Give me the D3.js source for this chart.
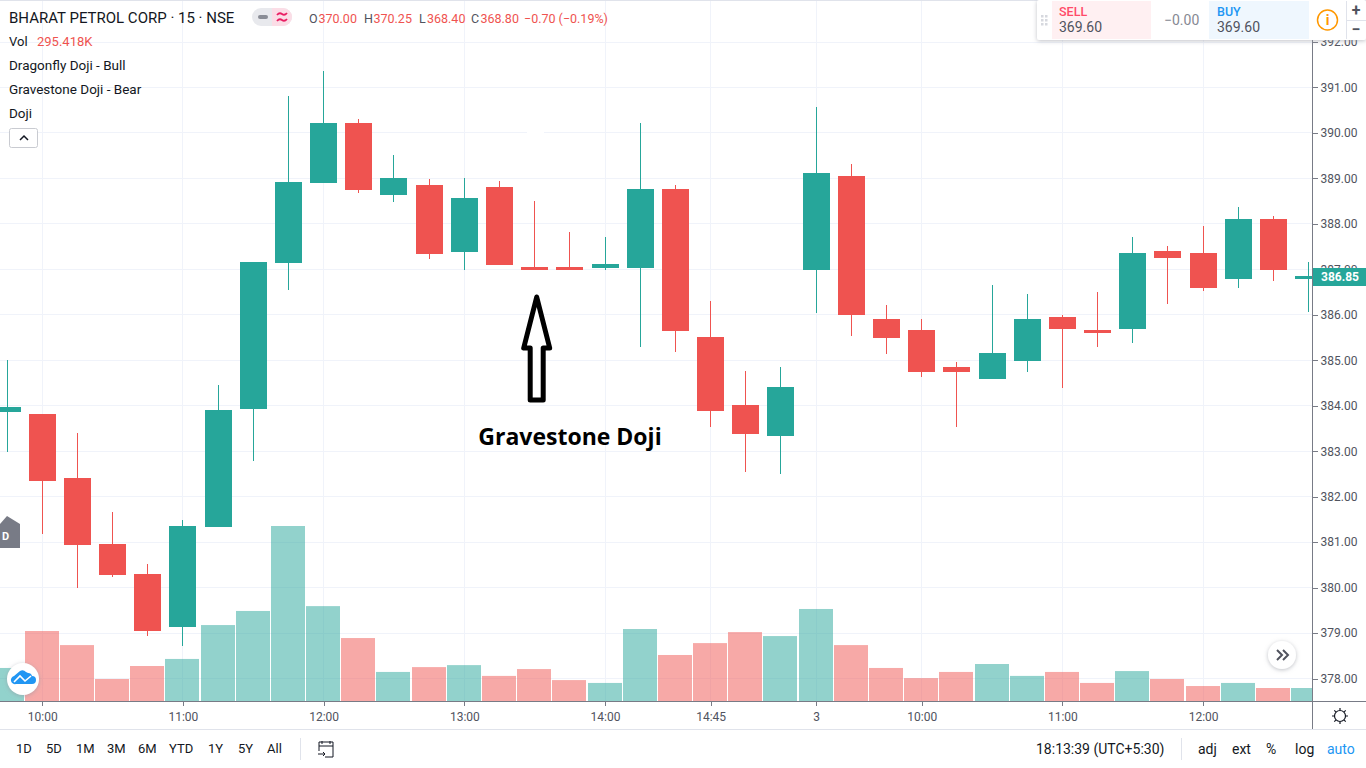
<!DOCTYPE html>
<html>
<head>
<meta charset="utf-8">
<style>
html, body { margin: 0; padding: 0; background: #fff; overflow: hidden; }
svg { display: block; font-family: "Open Sans", sans-serif; }
.axis path, .axis line { stroke: #787b86; shape-rendering: crispEdges; }
.axis text { font-family: Roboto, sans-serif; font-size: 12px; fill: #50535e; }
</style>
<script src="https://d3js.org/d3.v7.min.js"></script>
</head>
<body>
<div id="chart"></div>
<script>
// values
var opens  = [383.85,383.81,382.40,380.95,380.29,379.12,381.32,383.92,387.13,388.89,390.21,388.62,388.84,387.37,388.80,387.04,387.04,387.02,387.02,388.76,385.50,384.00,383.32,386.97,389.04,385.90,385.65,384.84,384.58,384.97,385.94,385.65,385.68,387.39,387.35,386.78,388.10,386.78];
var highs  = [384.99,383.81,383.39,381.65,380.51,381.47,384.44,387.15,390.80,391.35,390.30,389.50,388.98,389.00,388.93,388.49,387.81,387.70,390.21,388.84,386.29,384.75,384.84,390.56,389.31,386.20,385.90,384.95,386.64,386.45,385.98,386.49,387.70,387.50,387.94,388.36,388.16,387.15];
var lows   = [382.97,381.17,379.98,380.22,378.92,378.70,381.32,382.77,386.53,388.89,388.67,388.47,387.22,386.97,387.08,386.97,386.97,386.97,385.28,385.17,383.52,382.53,382.49,386.03,385.52,385.13,384.62,383.52,384.58,384.73,384.38,385.28,385.37,386.23,386.51,386.58,386.73,386.05];
var closes = [383.96,382.33,380.92,380.26,379.03,381.34,383.89,387.15,388.91,390.21,388.73,389.00,387.33,388.56,387.08,386.97,386.97,387.10,388.76,385.63,383.87,383.37,384.40,389.11,385.98,385.48,384.73,384.73,385.15,385.90,385.68,385.59,387.35,387.24,386.58,388.10,386.97,386.84];
var volumes = [750,1590,1270,500,795,955,1725,2045,3975,2155,1430,660,770,815,570,725,475,410,1635,1045,1315,1565,1475,2090,1270,750,520,660,840,570,660,410,680,500,340,410,295,295];

var priceTicks = d3.range(378, 393);
var timeTickIndex = [1,5,9,13,17,20,23,26,30,34];
var timeTickLabels = ["10:00","11:00","12:00","13:00","14:00","14:45","3","10:00","11:00","12:00"];
var legendLines = ["Dragonfly Doji - Bull","Gravestone Doji - Bear","Doji"];
var rangeButtons = ["1D","5D","1M","3M","6M","YTD","1Y","5Y","All"];
var rangeButtonX = [16,46,76,107,138,169,208,238,267];
var scaleButtons = ["adj","ext","%","log","auto"];
var scaleButtonX = [1198,1232,1266,1295,1327];
var ohlcLabels = ["O","H","L","C"];
var ohlcValues = ["370.00","370.25","368.40","368.80"];
var ohlcX = [309,364,419,471];

var paneRight = 1312, paneBottom = 701;
var green = "#26a69a", red = "#ef5350";

var svg = d3.select("#chart").append("svg")
    .attr("width", 1366)
    .attr("height", 768);

var x = d3.scaleLinear().domain([0, 37]).range([7, 1308.66]);
var y = d3.scaleLinear().domain([378, 392]).range([678, 41.5]);
var yVol = d3.scaleLinear().domain([0, 3975]).range([paneBottom, 526]);
var bodyW = 27, volW = 34;

var defs = svg.append("defs");
defs.append("clipPath").attr("id", "pane").append("rect")
    .attr("width", paneRight).attr("height", paneBottom);
var shadow = defs.append("filter").attr("id", "shadow")
    .attr("x", "-30%").attr("y", "-30%").attr("width", "160%").attr("height", "160%");
shadow.append("feDropShadow").attr("dx", 0).attr("dy", 1).attr("stdDeviation", 2)
    .attr("flood-color", "#9598a1").attr("flood-opacity", 0.6);

var pane = svg.append("g").attr("clip-path", "url(#pane)");

// grid
pane.append("g").selectAll("line").data(priceTicks).enter().append("line")
    .attr("x1", 0).attr("x2", paneRight)
    .attr("y1", function(d) { return Math.round(y(d)) + 0.5; })
    .attr("y2", function(d) { return Math.round(y(d)) + 0.5; })
    .attr("stroke", "#f0f3fa");
pane.append("g").selectAll("line").data(timeTickIndex).enter().append("line")
    .attr("y1", 0).attr("y2", paneBottom)
    .attr("x1", function(d) { return Math.floor(x(d)) + 0.5; })
    .attr("x2", function(d) { return Math.floor(x(d)) + 0.5; })
    .attr("stroke", "#f0f3fa");

// small white patch that sits over the grid in the source image
pane.append("rect").attr("x", 527).attr("y", 127).attr("width", 17).attr("height", 11).attr("fill", "#fff");

// volume
pane.append("g").selectAll("rect").data(volumes).enter().append("rect")
    .attr("x", function(d, i) { return Math.floor(x(i)) - 17; })
    .attr("width", volW)
    .attr("y", function(d) { return yVol(d); })
    .attr("height", function(d) { return paneBottom - yVol(d); })
    .attr("fill", function(d, i) { return closes[i] >= opens[i] ? green : red; })
    .attr("fill-opacity", 0.5);

// candles
var candle = pane.append("g").selectAll("g").data(opens).enter().append("g");
candle.append("line")
    .attr("x1", function(d, i) { return Math.floor(x(i)) + 0.5; })
    .attr("x2", function(d, i) { return Math.floor(x(i)) + 0.5; })
    .attr("y1", function(d, i) { return y(highs[i]); })
    .attr("y2", function(d, i) { return y(lows[i]); })
    .attr("stroke", function(d, i) { return closes[i] >= opens[i] ? green : red; })
    .attr("shape-rendering", "crispEdges");
candle.append("rect")
    .attr("x", function(d, i) { return Math.floor(x(i)) - 13; })
    .attr("width", bodyW)
    .attr("y", function(d, i) { return y(Math.max(opens[i], closes[i])); })
    .attr("height", function(d, i) { return Math.abs(y(opens[i]) - y(closes[i])); })
    .attr("fill", function(d, i) { return closes[i] >= opens[i] ? green : red; })
    .attr("shape-rendering", "crispEdges");

// axes
svg.append("g").attr("class", "axis")
    .attr("transform", "translate(" + (paneRight + 0.5) + ",0.5)")
    .call(d3.axisRight(y).tickValues(priceTicks).tickFormat(d3.format(".2f")).tickSize(5).tickPadding(3))
    .call(function(g) { g.select(".domain").attr("d", "M0,0V729"); });
svg.append("g").attr("class", "axis")
    .attr("transform", "translate(0," + (paneBottom + 0.5) + ")")
    .call(d3.axisBottom(x).tickValues(timeTickIndex)
        .tickFormat(function(d, i) { return timeTickLabels[i]; }).tickSize(4).tickPadding(7))
    .call(function(g) { g.select(".domain").attr("d", "M0,0H1366"); });

// chart frame lines
svg.append("line").attr("x1", 0).attr("x2", 1366).attr("y1", 0.5).attr("y2", 0.5).attr("stroke", "#e0e3eb");
svg.append("line").attr("x1", 0).attr("x2", 1366).attr("y1", 729.5).attr("y2", 729.5).attr("stroke", "#e0e3eb");

// annotation
var ax = x(15) + 2;
var arrow = [[0,0],[-13,51],[-6.5,51],[-6.5,103],[6.5,103],[6.5,51],[13,51]];
svg.append("path")
    .attr("transform", "translate(" + ax + ",297)")
    .attr("d", d3.line()(arrow) + "Z")
    .attr("fill", "#fff").attr("stroke", "#000").attr("stroke-width", 5).attr("stroke-linejoin", "round");
svg.append("text").attr("x", 570).attr("y", 445).attr("text-anchor", "middle")
    .style("font-size", "23px").style("font-weight", 700).attr("fill", "#000").text("Gravestone Doji");

// legend
function label(txt, px, py, size, color, anchor) {
    return svg.append("text").attr("x", px).attr("y", py).text(txt)
        .style("font-family", "Roboto, sans-serif")
        .style("font-size", size + "px").attr("fill", color)
        .attr("text-anchor", anchor || "start");
}
label("BHARAT PETROL CORP · 15 · NSE", 9, 23, 15, "#131722");
svg.append("rect").attr("x", 252).attr("y", 8).attr("width", 40).attr("height", 18).attr("rx", 9).attr("fill", "#e8e9ed");
svg.append("path").attr("d", "M272,8H283a9,9 0 0 1 0,18H272Z").attr("fill", "#fbdde6");
svg.append("rect").attr("x", 258).attr("y", 15).attr("width", 10).attr("height", 4).attr("rx", 2).attr("fill", "#8a8d96");
svg.append("path").attr("d", "M277,15q2.5,-3 5,-1t5,-1M277,21q2.5,-3 5,-1t5,-1")
    .attr("fill", "none").attr("stroke", "#e91e63").attr("stroke-width", 1.8);
ohlcLabels.forEach(function(l, i) {
    label(l, ohlcX[i], 23, 12.5, "#50535e");
    label(ohlcValues[i], ohlcX[i] + (l === "L" ? 8 : 9.5), 23, 12.5, red);
});
label("−0.70 (−0.19%)", 524, 23, 12.5, red);
label("Vol", 9, 46, 13, "#131722");
label("295.418K", 37, 46, 13, red);
legendLines.forEach(function(l, i) {
    label(l, 9, 70 + i * 24, 13.5, "#131722");
});
svg.append("rect").attr("x", 9.5).attr("y", 128.5).attr("width", 28).attr("height", 19).attr("rx", 2)
    .attr("fill", "#fff").attr("stroke", "#c9cbd1");
svg.append("path").attr("d", "M20,140l4,-4l4,4").attr("fill", "none").attr("stroke", "#131722").attr("stroke-width", 1.5);

// last price tag
svg.append("rect").attr("x", 1313).attr("y", 268).attr("width", 53).attr("height", 18).attr("fill", green);
label("386.85", 1321, 281, 12, "#fff").style("font-weight", 700);

// D marker
svg.append("path").attr("d", "M0,524L7,516L20,524V548H0Z").attr("fill", "#787b86");
label("D", 2, 540, 11, "#fff").style("font-weight", 700);

// round buttons
svg.append("circle").attr("cx", 23).attr("cy", 679).attr("r", 16).attr("fill", "#fff").attr("filter", "url(#shadow)");
svg.append("path").attr("d", "M16,684a4,4 0 0 1 -2,-8l6,-5a5,5 0 0 1 6,1l2,1a4,4 0 0 1 4,3a4,4 0 0 1 0,8Z").attr("fill", "#2196f3");
svg.append("path").attr("d", "M14,682l6,-6l5,5l6,-5").attr("fill", "none").attr("stroke", "#fff").attr("stroke-width", 1.6);
svg.append("circle").attr("cx", 1282).attr("cy", 655).attr("r", 14).attr("fill", "#fff").attr("filter", "url(#shadow)");
svg.append("path").attr("d", "M1277,650l5,5l-5,5M1283,650l5,5l-5,5").attr("fill", "none").attr("stroke", "#50535e").attr("stroke-width", 2);

// gear
svg.append("circle").attr("cx", 1340).attr("cy", 716).attr("r", 5.5).attr("fill", "none").attr("stroke", "#131722").attr("stroke-width", 1.2);
svg.append("path").attr("d", "M1340,708v2M1340,722v2M1332,716h2M1346,716h2M1334.3,710.3l1.5,1.5M1344.2,720.2l1.5,1.5M1334.3,721.7l1.5,-1.5M1344.2,711.8l1.5,-1.5")
    .attr("stroke", "#131722").attr("stroke-width", 1.2);

// trade panel
svg.append("rect").attr("x", 1037).attr("y", 0).attr("width", 329).attr("height", 40).attr("rx", 2).attr("fill", "#fff").attr("filter", "url(#shadow)");
svg.append("rect").attr("x", 1052).attr("y", 1).attr("width", 99).attr("height", 38).attr("fill", "#fff0f2");
svg.append("rect").attr("x", 1209).attr("y", 1).attr("width", 100).attr("height", 38).attr("fill", "#eff7fe");
svg.append("line").attr("x1", 1346.5).attr("x2", 1346.5).attr("y1", 1).attr("y2", 39).attr("stroke", "#e0e3eb");
svg.append("line").attr("x1", 1346).attr("x2", 1366).attr("y1", 20.5).attr("y2", 20.5).attr("stroke", "#e0e3eb");
svg.selectAll(".dot").data(d3.range(6)).enter().append("rect").attr("class", "dot")
    .attr("x", function(d) { return 1041 + (d % 2) * 4; })
    .attr("y", function(d) { return 15 + Math.floor(d / 2) * 4; })
    .attr("width", 2.5).attr("height", 2.5).attr("fill", "#d6d8de");
label("SELL", 1059, 16, 12.5, "#ff4a68").style("font-weight", 500);
label("369.60", 1059, 32, 14, "#50535e");
label("−0.00", 1164, 25, 14, "#868993");
label("BUY", 1217, 16, 12.5, "#2196f3").style("font-weight", 500);
label("369.60", 1217, 32, 14, "#50535e");
svg.append("circle").attr("cx", 1327.5).attr("cy", 20).attr("r", 10).attr("fill", "#fff").attr("stroke", "#ff9800").attr("stroke-width", 1.5);
label("i", 1327.5, 25, 14, "#ff9800", "middle").style("font-weight", 700);
label("+", 1356, 16, 16, "#50535e", "middle").style("font-weight", 700);
label("−", 1356, 35, 16, "#50535e", "middle").style("font-weight", 700);

// bottom toolbar
rangeButtons.forEach(function(l, i) {
    label(l, rangeButtonX[i], 753, 13, "#131722");
});
svg.append("line").attr("x1", 300.5).attr("x2", 300.5).attr("y1", 738).attr("y2", 760).attr("stroke", "#e0e3eb");
svg.append("path").attr("d", "M319,751v-9h14v15h-8M319,746h14M322,741v3M330,741v3M318,754h7M323,752l2,2l-2,2")
    .attr("fill", "none").attr("stroke", "#131722");
label("18:13:39 (UTC+5:30)", 1036, 754, 14, "#131722");
svg.append("line").attr("x1", 1181.5).attr("x2", 1181.5).attr("y1", 738).attr("y2", 760).attr("stroke", "#e0e3eb");
scaleButtons.forEach(function(l, i) {
    label(l, scaleButtonX[i], 754, 14, l === "auto" ? "#2196f3" : "#131722");
});
</script>
</body>
</html>
